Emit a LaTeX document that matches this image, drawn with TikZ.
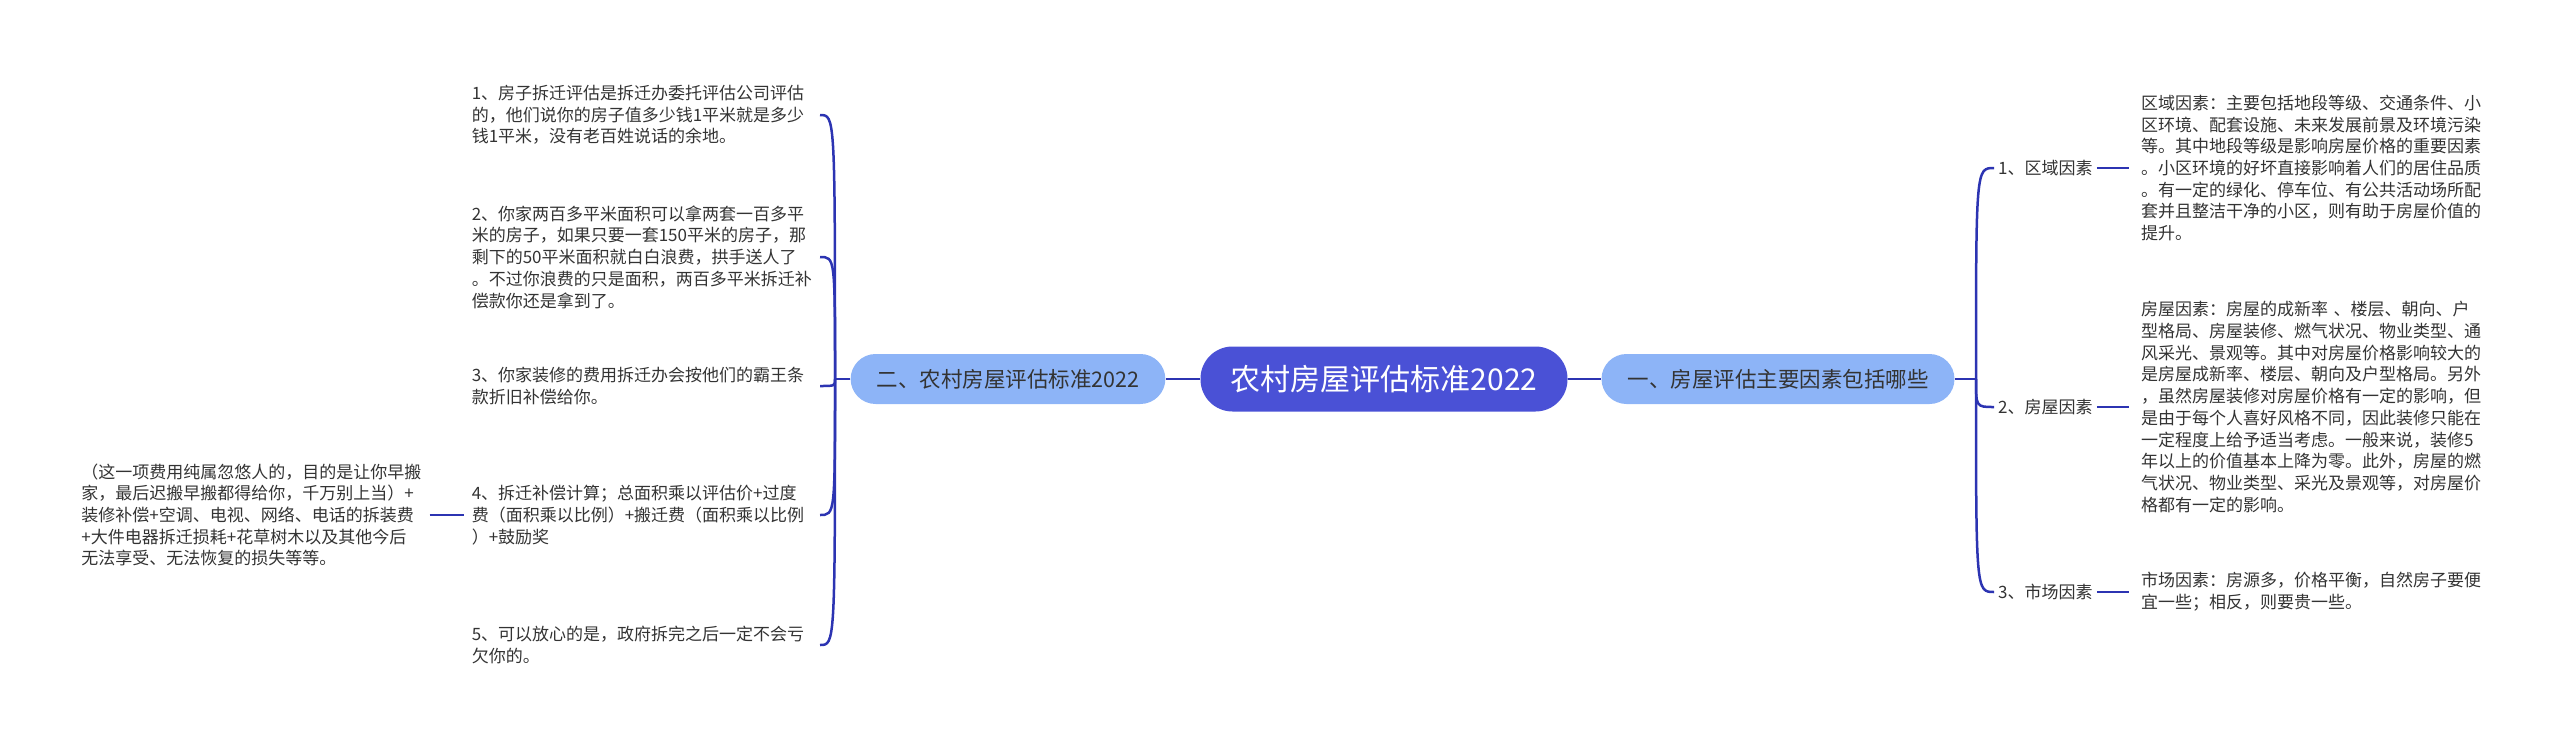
\documentclass[tikz,border=0pt]{standalone}
\usepackage{fontspec}
\setmainfont{Noto Sans CJK SC}
\usepackage{tikz}
\usetikzlibrary{positioning}
\definecolor{rootblue}{RGB}{74, 81, 214}
\definecolor{branchblue}{RGB}{141, 180, 247}
\definecolor{linkblue}{RGB}{44, 52, 178}
\definecolor{textgray}{RGB}{51, 51, 51}

\tikzset{
    rootnode/.style={fill=rootblue, rounded corners=32pt, minimum width=367pt,
          minimum height=65pt, text=white, font=\fontsize{30}{36}\selectfont},
    branchnode/.style={fill=branchblue, rounded corners=25pt, minimum height=50pt,
          inner xsep=26pt, text=textgray, font=\fontsize{21.5}{26}\selectfont},
    leafnode/.style={text=textgray, inner sep=4pt, font=\fontsize{17}{21.7}\selectfont},
    notenode/.style={leafnode, align=left, text width=340pt, inner xsep=8pt},
    link/.style={draw=linkblue, line width=2.5pt}
}

\begin{document}
\begin{tikzpicture}[x=1pt, y=-1pt]
    \useasboundingbox (0,0) rectangle (2560,747);

    \node[rootnode] (root) at (1384,379) {农村房屋评估标准2022};
    \node[branchnode] (standard) at (1008,379) {二、农村房屋评估标准2022};
    \node[branchnode] (factors) at (1778,379) {一、房屋评估主要因素包括哪些};

    \coordinate (lj) at (835,379);
    \coordinate (rj) at (1976,379);

    \node[notenode, anchor=east] (s1) at (820,115) {1、房子拆迁评估是拆迁办委托评估公司评估\\的，他们说你的房子值多少钱1平米就是多少\\钱1平米，没有老百姓说话的余地。};
    \node[notenode, anchor=east] (s2) at (820,257) {2、你家两百多平米面积可以拿两套一百多平\\米的房子，如果只要一套150平米的房子，那\\剩下的50平米面积就白白浪费，拱手送人了\\。不过你浪费的只是面积，两百多平米拆迁补\\偿款你还是拿到了。};
    \node[notenode, anchor=east] (s3) at (820,386) {3、你家装修的费用拆迁办会按他们的霸王条\\款折旧补偿给你。};
    \node[notenode, anchor=east] (s4) at (820,515) {4、拆迁补偿计算；总面积乘以评估价+过度\\费（面积乘以比例）+搬迁费（面积乘以比例\\）+鼓励奖};
    \node[notenode, anchor=east] (s5) at (820,645) {5、可以放心的是，政府拆完之后一定不会亏\\欠你的。};
    \node[notenode, left=34pt of s4] (s4x) {（这一项费用纯属忽悠人的，目的是让你早搬\\家，最后迟搬早搬都得给你，千万别上当）+\\装修补偿+空调、电视、网络、电话的拆装费\\+大件电器拆迁损耗+花草树木以及其他今后\\无法享受、无法恢复的损失等等。};

    \node[leafnode, anchor=west] (f1) at (1994,168) {1、区域因素};
    \node[leafnode, anchor=west] (f2) at (1994,407) {2、房屋因素};
    \node[leafnode, anchor=west] (f3) at (1994,592) {3、市场因素};
    \node[notenode, right=36pt of f1] (d1) {区域因素：主要包括地段等级、交通条件、小\\区环境、配套设施、未来发展前景及环境污染\\等。其中地段等级是影响房屋价格的重要因素\\。小区环境的好坏直接影响着人们的居住品质\\。有一定的绿化、停车位、有公共活动场所配\\套并且整洁干净的小区，则有助于房屋价值的\\提升。};
    \node[notenode, right=36pt of f2] (d2) {房屋因素：房屋的成新率 、楼层、朝向、户\\型格局、房屋装修、燃气状况、物业类型、通\\风采光、景观等。其中对房屋价格影响较大的\\是房屋成新率、楼层、朝向及户型格局。另外\\，虽然房屋装修对房屋价格有一定的影响，但\\是由于每个人喜好风格不同，因此装修只能在\\一定程度上给予适当考虑。一般来说，装修5\\年以上的价值基本上降为零。此外，房屋的燃\\气状况、物业类型、采光及景观等，对房屋价\\格都有一定的影响。};
    \node[notenode, right=36pt of f3] (d3) {市场因素：房源多，价格平衡，自然房子要便\\宜一些；相反，则要贵一些。};

    \draw[link] (root) -- (standard);
    \draw[link] (root) -- (factors);
    \draw[link] (standard.west) -- (lj);
    \draw[link] (factors.east) -- (rj);
    \foreach \s in {s1,s2,s3,s4,s5}
        \draw[link] (lj) .. controls (lj |- \s.east) .. (\s.east);
    \foreach \f in {f1,f2,f3}
        \draw[link] (rj) .. controls (rj |- \f.west) .. (\f.west);
    \draw[link] (s4x.east) -- (s4.west);
    \draw[link, shorten >=4pt] (f1.east) -- (d1.west);
    \draw[link, shorten >=4pt] (f2.east) -- (d2.west);
    \draw[link, shorten >=4pt] (f3.east) -- (d3.west);
\end{tikzpicture}
\end{document}
